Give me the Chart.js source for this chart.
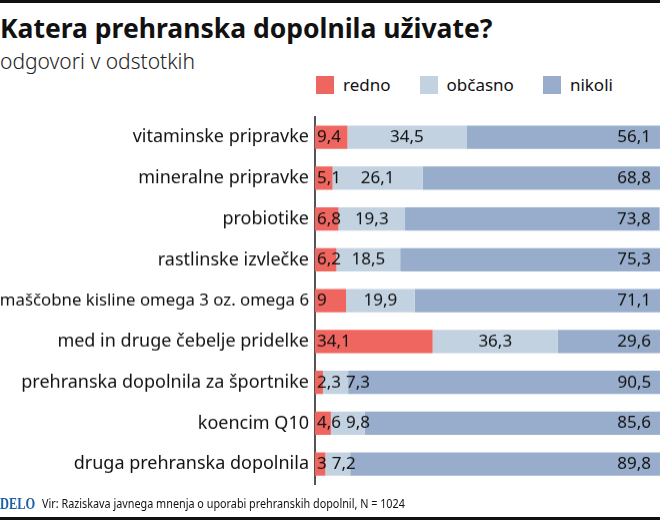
<!DOCTYPE html>
<html>
<head>
<meta charset="utf-8">
<script src="https://cdn.jsdelivr.net/npm/chart.js@4"></script>
<style>
  body { margin: 0; width: 660px; height: 520px; position: relative; overflow: hidden; background: #fff; font-family: "Noto Sans", sans-serif; color: #111; }
  .rule { position: absolute; left: 0; width: 660px; height: 3px; background: #111; }
  #title { position: absolute; left: 0; top: 11px; font-size: 26.5px; font-weight: 700; line-height: 34px; }
  #subtitle { position: absolute; left: 0; top: 47px; font-size: 21px; font-weight: 300; line-height: 28px; color: #222; }
  #legend { position: absolute; top: 74px; left: 316px; display: flex; font-size: 17px; line-height: 22px; }
  #legend .item { display: flex; align-items: center; margin-right: 29px; }
  #legend .box { width: 18px; height: 18px; margin-right: 9px; }
  #wrap { position: absolute; left: 0; top: 100.3px; width: 660px; height: 400.4px; }
  #delo { position: absolute; left: 0; top: 494px; font-family: "Liberation Serif", serif; font-weight: 700; font-size: 16px; line-height: 20px; white-space: nowrap; transform-origin: left center; color: #1d5fa6; }
  #source { position: absolute; left: 42px; top: 495px; font-size: 12px; line-height: 18px; white-space: nowrap; transform-origin: left center; color: #111; }
</style>
</head>
<body>
<div class="rule" style="top:0"></div>
<div id="title">Katera prehranska dopolnila uživate?</div>
<div id="subtitle">odgovori v odstotkih</div>
<div id="legend"></div>
<div id="wrap"><canvas id="chart"></canvas></div>
<div id="delo">DELO</div>
<div id="source">Vir: Raziskava javnega mnenja o uporabi prehranskih dopolnil, N = 1024</div>
<div class="rule" style="top:517px"></div>
<script>
const categories = [
  'vitaminske pripravke',
  'mineralne pripravke',
  'probiotike',
  'rastlinske izvlečke',
  'maščobne kisline omega 3 oz. omega 6',
  'med in druge čebelje pridelke',
  'prehranska dopolnila za športnike',
  'koencim Q10',
  'druga prehranska dopolnila',
];

const redno   = [9.4, 5.1, 6.8, 6.2, 9, 34.1, 2.3, 4.6, 3];
const obcasno = [34.5, 26.1, 19.3, 18.5, 19.9, 36.3, 7.3, 9.8, 7.2];
const nikoli  = [56.1, 68.8, 73.8, 75.3, 71.1, 29.6, 90.5, 85.6, 89.8];

const seriesNames = ['redno', 'občasno', 'nikoli'];
const colors = ['#ef6660', '#c2d2e1', '#97adcb'];

// legend in html
const legend = document.getElementById('legend');
seriesNames.forEach((name, i) => {
  const item = document.createElement('div');
  item.className = 'item';
  item.innerHTML = `<span class="box" style="background:${colors[i]}"></span><span>${name}</span>`;
  legend.appendChild(item);
});

// squeeze footer texts to their narrow widths
const delo = document.getElementById('delo');
delo.style.transform = 'scaleX(' + (35 / delo.scrollWidth) + ')';
const src = document.getElementById('source');
src.style.transform = 'scaleX(' + (363 / src.scrollWidth) + ')';

const fmt = v => String(v).replace('.', ',');

const labelPlugin = {
  id: 'segLabels',
  afterDatasetsDraw(chart) {
    const ctx = chart.ctx;
    ctx.save();
    ctx.font = '17px "Noto Sans"';
    ctx.fillStyle = '#111';
    ctx.textBaseline = 'middle';
    const m0 = chart.getDatasetMeta(0).data;
    const m1 = chart.getDatasetMeta(1).data;
    const m2 = chart.getDatasetMeta(2).data;
    categories.forEach((c, i) => {
      const y = m0[i].y;
      // redno: from bar start
      const t0 = fmt(redno[i]);
      const x0 = m0[i].base + 2;
      ctx.textAlign = 'left';
      ctx.fillText(t0, x0, y);
      const end0 = x0 + ctx.measureText(t0).width;
      // obcasno: centered but not overlapping
      const t1 = fmt(obcasno[i]);
      const w1 = ctx.measureText(t1).width;
      let cx = (m1[i].base + m1[i].x) / 2;
      cx = Math.max(cx, end0 + 5 + w1 / 2);
      ctx.textAlign = 'center';
      ctx.fillText(t1, cx, y);
      // nikoli: right aligned
      ctx.textAlign = 'right';
      ctx.fillText(fmt(nikoli[i]), m2[i].x - 9, y);
    });
    ctx.restore();
  }
};

const data = {
  labels: categories,
  datasets: [redno, obcasno, nikoli].map((vals, i) => ({
    label: seriesNames[i],
    data: vals,
    backgroundColor: colors[i],
    borderWidth: 0,
    barPercentage: 0.57,
    categoryPercentage: 1,
  }))
};

const config = {
  type: 'bar',
  data: data,
  options: {
    indexAxis: 'y',
    responsive: true,
    maintainAspectRatio: false,
    animation: false,
    layout: { padding: 0 },
    plugins: { legend: { display: false }, tooltip: { enabled: false } },
    scales: {
      x: { stacked: true, min: 0, max: 100, display: false },
      y: {
        stacked: true,
        grid: { display: false, drawTicks: false },
        border: { display: true, color: '#555', width: 2 },
        ticks: {
          color: '#111',
          padding: 6,
          // the long omega label is set a bit tighter so it fits
          font: ctx => ({ family: 'Noto Sans', size: ctx.index === 4 ? 16.8 : 18 })
        },
        afterFit(scale) { scale.width = 315; }
      }
    }
  },
  plugins: [labelPlugin]
};

const myChart = new Chart(document.getElementById('chart'), config);
</script>
</body>
</html>
